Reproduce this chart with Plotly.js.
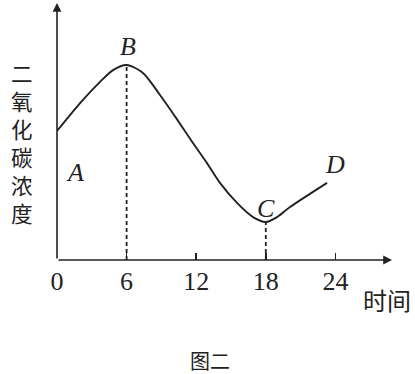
<!DOCTYPE html>
<html>
<head>
<meta charset="utf-8">
<script src="https://cdn.plot.ly/plotly-3.0.1.min.js"></script>
<style>html,body{margin:0;padding:0;background:#fff;}#chart{width:415px;height:374px;}</style>
</head>
<body>
<div id="chart"></div>
<script>
// Data (time in hours, CO2 concentration in arbitrary units)
const timeValues = [0, 1.12, 2.24, 3.71, 4.83, 6, 7.41, 8.88, 10.26, 11.72, 12.93, 14.05, 15.52, 16.9, 18, 18.97, 20.09, 23.28];
const co2Values  = [5.02, 5.64, 6.23, 6.93, 7.39, 7.59, 7.28, 6.42, 5.53, 4.55, 3.77, 3.0, 2.22, 1.67, 1.48, 1.67, 2.06, 3.0];
const tickVals = [0, 6, 12, 18, 24];
const tickText = ['0', '6', '12', '18', '24'];
const markTimes = [6, 18];          // B and C guide lines
const markValues = [7.59, 1.48];
const pointLabels = ['A', 'B', 'C', 'D'];
const yTitle = '二氧化碳浓度';
const xTitle = '时间';
const caption = '图二';

const W = 415, H = 374;
const L = 57, R = 23, T = 3, B = 114;
const pw = W - L - R, ph = H - T - B;
const px = x => (x - L) / pw;
const py = y => (H - B - y) / ph;
const ink = '#222';

const traces = [{
  x: timeValues, y: co2Values, type: 'scatter', mode: 'lines',
  line: {color: ink, width: 1.9, shape: 'spline', smoothing: 0.8},
  hoverinfo: 'skip'
}];
markTimes.forEach((t, i) => {
  traces.push({
    x: [t, t], y: [0, markValues[i]], type: 'scatter', mode: 'lines',
    line: {color: ink, width: 1.8, dash: '4px,3px'}, hoverinfo: 'skip'
  });
});

const labelPos = [[1.57, 3.42], [6.1, 8.3], [18.03, 2.02], [23.97, 3.7]];
const annotations = [];
pointLabels.forEach((lab, i) => {
  annotations.push({
    x: labelPos[i][0], y: labelPos[i][1], xref: 'x', yref: 'y', text: lab,
    xanchor: 'center', yanchor: 'middle',
    showarrow: false, font: {family: 'Liberation Serif', size: 26, color: ink, style: 'italic'}
  });
});
// axes with arrows
annotations.push({x: 28.88, y: 0, ax: 0, ay: 0, xref: 'x', yref: 'y', axref: 'x', ayref: 'y',
  showarrow: true, arrowhead: 2, arrowsize: 1.1, arrowwidth: 1.6, arrowcolor: ink, text: ''});
annotations.push({x: 0, y: 10, ax: 0, ay: 0, xref: 'x', yref: 'y', axref: 'x', ayref: 'y',
  showarrow: true, arrowhead: 2, arrowsize: 1.1, arrowwidth: 1.6, arrowcolor: ink, text: ''});
// vertical y title (one character per line)
annotations.push({x: px(22), y: py(142), xref: 'paper', yref: 'paper',
  text: Array.from(yTitle).join('<br>'),
  xanchor: 'center', yanchor: 'middle', align: 'center',
  showarrow: false, font: {family: 'Noto Sans CJK SC', size: 21.5, color: ink}});
annotations.push({x: px(387), y: py(299), xref: 'paper', yref: 'paper', text: xTitle,
  xanchor: 'center', yanchor: 'middle',
  showarrow: false, font: {family: 'Noto Sans CJK SC', size: 24, color: ink}});
annotations.push({x: px(210), y: py(360), xref: 'paper', yref: 'paper', text: caption,
  xanchor: 'center', yanchor: 'middle',
  showarrow: false, font: {family: 'Noto Sans CJK SC', size: 20, color: ink}});

const layout = {
  width: W, height: H,
  margin: {l: L, r: R, t: T, b: B},
  paper_bgcolor: '#fff', plot_bgcolor: '#fff',
  showlegend: false,
  xaxis: {range: [0, pw / 11.6], showgrid: false, zeroline: false, showline: false,
    tickmode: 'array', tickvals: tickVals, ticktext: tickText,
    ticks: 'inside', ticklen: 7, tickwidth: 1.5, tickcolor: ink,
    tickfont: {family: 'Liberation Serif', size: 26, color: ink}, ticklabelstandoff: 3},
  yaxis: {range: [0, ph / 25.7], showgrid: false, zeroline: false, showline: false,
    showticklabels: false, ticks: ''},
  annotations: annotations
};
Plotly.newPlot('chart', traces, layout, {staticPlot: true, displayModeBar: false});
</script>
</body>
</html>
